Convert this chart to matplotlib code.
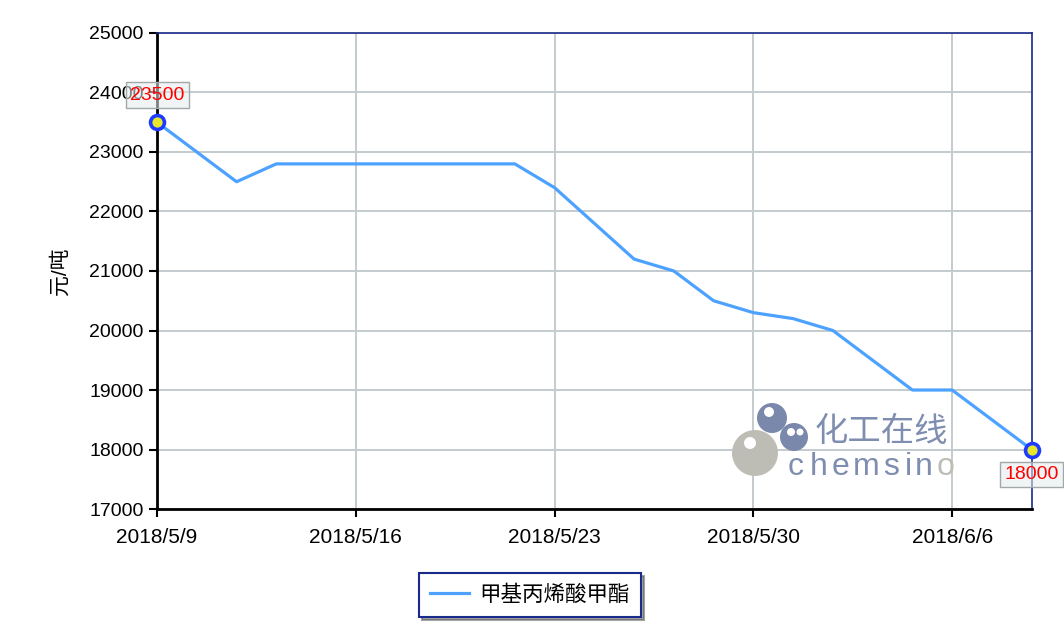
import numpy as np
import matplotlib.pyplot as plt
from matplotlib.patches import Circle
from matplotlib.transforms import IdentityTransform

plt.rcParams['font.family'] = ['Liberation Sans', 'Noto Sans CJK SC', 'DejaVu Sans']

# ── Data: vertex dates (working-day axis) and prices ──────────
dates  = ['2018-05-09', '2018-05-11', '2018-05-14', '2018-05-22', '2018-05-23',
          '2018-05-25', '2018-05-28', '2018-05-29', '2018-05-30', '2018-05-31',
          '2018-06-01', '2018-06-05', '2018-06-06', '2018-06-08']
prices = [23500, 22500, 22800, 22800, 22400,
          21200, 21000, 20500, 20300, 20200,
          20000, 19000, 19000, 18000]
tick_dates  = ['2018-05-09', '2018-05-16', '2018-05-23', '2018-05-30', '2018-06-06']
tick_labels = ['2018/5/9', '2018/5/16', '2018/5/23', '2018/5/30', '2018/6/6']
series_name = '甲基丙烯酸甲酯'
y_label     = '元/吨'

start = dates[0]
x = np.busday_count(start, dates)
xt = np.busday_count(start, tick_dates)

W, H = 1064, 639
fig = plt.figure(figsize=(W / 100, H / 100), dpi=100)
ax = fig.add_axes([0.1476, 0.2034, 0.8220, 0.7450])

line_color = '#4ea2ff'
ax.plot(x, prices, color=line_color, lw=2.3, label=series_name, zorder=3)
ax.plot([x[0], x[-1]], [prices[0], prices[-1]], 'o', ms=10,
        mfc='#e8e82a', mec='#1e3cff', mew=2.6, zorder=5, clip_on=False)

ax.set_xlim(x[0], x[-1])
ax.set_ylim(17000, 25000)
ax.set_yticks(np.arange(17000, 25001, 1000))
ax.set_xticks(xt)
ax.set_xticklabels(tick_labels)
ax.tick_params(axis='both', labelsize=14, length=6, width=1.5, direction='out', color='black')
ax.tick_params(axis='x', pad=8, labelsize=15)
ax.grid(True, color='#c3cbce', lw=1.4)
ax.set_axisbelow(True)

for side in ['left', 'bottom']:
    ax.spines[side].set_color('black')
    ax.spines[side].set_linewidth(2)
for side in ['top', 'right']:
    ax.spines[side].set_color('#1a2a8a')
    ax.spines[side].set_linewidth(1.2)

ax.set_ylabel(y_label, fontsize=15, labelpad=14)

# value labels at both ends (first box sits over the 24000 label, as in the source)
box = dict(boxstyle='square,pad=0.22', fc=(0.90, 0.92, 0.92, 0.55), ec='#a0a8a8', lw=1)
ax.annotate(f'{prices[0]}', (x[0], prices[0]), xytext=(0, 19.5), textcoords='offset points',
            ha='center', va='center', color='red', fontsize=14, bbox=box,
            annotation_clip=False, zorder=6)
ax.annotate(f'{prices[-1]}', (x[-1], prices[-1]), xytext=(0, -18), textcoords='offset points',
            ha='center', va='center', color='red', fontsize=14, bbox=box,
            annotation_clip=False, zorder=6)

# watermark logo (pixel positions)
def px(cx, cy):
    return cx, H - cy
for (cx, cy, r, col) in [(755, 453, 23, '#bdbdb6'), (772, 418, 15, '#7a88ab'),
                         (794, 437, 14, '#7a88ab')]:
    fig.patches.append(Circle(px(cx, cy), r, transform=IdentityTransform(),
                              fc=col, ec='none', zorder=1))
for (cx, cy, r) in [(750, 443, 6), (769, 412, 5), (791, 432, 4), (800, 432, 3.5)]:
    fig.patches.append(Circle(px(cx, cy), r, transform=IdentityTransform(),
                              fc='white', ec='none', zorder=1))
fig.text(815 / W, 1 - 432 / H, '化工在线', fontsize=24, color='#7f8db0', va='center',
         family=['Noto Sans CJK SC'], zorder=2)
letters = 'chemsino'
lefts = [788, 810, 832, 853, 883, 905, 915, 937]
for ch, lx in zip(letters, lefts):
    fig.text(lx / W, 1 - 475 / H, ch, fontsize=23, va='baseline', ha='left',
             color='#bdbdb6' if ch == 'o' else '#7f8db0', zorder=2)

leg = fig.legend(loc='center', bbox_to_anchor=(530 / W, 1 - 595 / H),
                 frameon=True, fancybox=False, shadow=True, edgecolor='#1a2a8a',
                 handlelength=1.8, handletextpad=0.5, borderpad=0.5, borderaxespad=0,
                 prop={'family': ['Noto Sans CJK SC'], 'size': 15.5})
leg.get_frame().set_linewidth(1.5)

fig.savefig('out.png', dpi=100)
